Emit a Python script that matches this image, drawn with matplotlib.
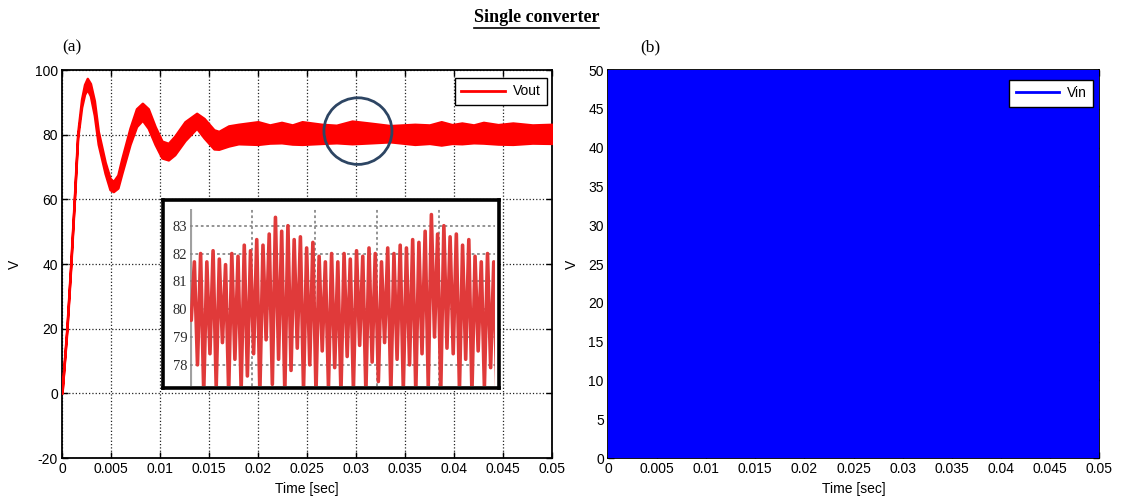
import numpy as np
import matplotlib
matplotlib.use("Agg")
import matplotlib.pyplot as plt
from matplotlib.patches import Ellipse
from matplotlib.lines import Line2D

# ---------------- data ----------------
time_ticks = [0, 0.005, 0.01, 0.015, 0.02, 0.025, 0.03, 0.035, 0.04, 0.045, 0.05]
time_tick_labels = ["0", "0.005", "0.01", "0.015", "0.02", "0.025", "0.03",
                    "0.035", "0.04", "0.045", "0.05"]
vout_yticks = [-20, 0, 20, 40, 60, 80, 100]
vin_yticks = [0, 5, 10, 15, 20, 25, 30, 35, 40, 45, 50]

# Vout envelope (upper / lower edge of the ripple band)
vout_t = [0, 0.0005, 0.0009, 0.00126, 0.0016, 0.0020, 0.0023, 0.00258, 0.0029,
          0.0033, 0.0037, 0.0044, 0.0049, 0.00524, 0.0057, 0.0061, 0.00694,
          0.0076, 0.0082, 0.0088, 0.0095, 0.0102, 0.01085, 0.0115, 0.01255,
          0.01374, 0.0145, 0.0155, 0.0160, 0.0170, 0.0180, 0.0200, 0.0212,
          0.0224, 0.0235, 0.0245, 0.0265, 0.0280, 0.0296, 0.0316, 0.0335,
          0.0360, 0.0375, 0.0387, 0.0398, 0.0408, 0.0420, 0.0430, 0.0445,
          0.0460, 0.0480, 0.0500]
vout_upper = [0.3, 20.5, 40.5, 60.5, 80.5, 91.0, 95.5, 97.4, 95.8,
              90.5, 81.0, 71.5, 66.5, 65.5, 67.5, 72.5, 82.0,
              88.0, 89.7, 88.0, 82.5, 78.0, 77.3, 79.5, 84.0,
              86.6, 85.0, 81.5, 81.0, 82.7, 83.2, 84.0, 83.0,
              83.8, 83.0, 84.0, 83.2, 82.9, 84.2, 83.5, 82.8,
              83.2, 83.0, 84.0, 83.1, 83.6, 83.0, 83.8, 83.1,
              83.6, 83.0, 83.2]
vout_lower = [0.0, 19.5, 39.5, 59.5, 79.0, 88.5, 92.5, 94.0, 92.0,
              86.0, 77.0, 68.0, 63.0, 62.4, 63.5, 68.0, 77.0,
              82.5, 84.5, 82.0, 77.0, 72.8, 72.2, 73.8, 78.2,
              82.0, 79.0, 75.6, 75.5, 76.5, 77.2, 77.0, 77.4,
              77.5, 77.1, 77.0, 77.3, 77.5, 77.2, 77.5, 77.8,
              77.0, 77.3, 76.8, 77.3, 77.2, 77.5, 77.4, 77.1,
              77.0, 77.4, 77.3]

# Zoomed inset: peaks and troughs of the ripple (one per switching cycle)
inset_peaks = [81.7, 82.0, 81.7, 82.1, 81.8, 81.6, 82.0, 81.9, 82.3, 82.1,
               82.5, 82.3, 82.7, 83.3, 82.8, 83.0, 82.5, 82.6, 82.2, 82.4,
               81.9, 81.7, 82.0, 81.7, 82.0, 81.8, 82.1, 81.9, 82.2, 82.0,
               81.7, 82.2, 82.0, 82.3, 82.2, 82.5, 82.4, 82.8, 83.4, 82.7,
               83.0, 82.6, 82.7, 82.3, 82.5, 81.9, 81.7, 82.0, 81.7]
inset_troughs = [79.6, 78.0, 77.0, 78.4, 77.2, 78.8, 77.0, 78.2, 77.1, 77.6,
                 78.4, 77.0, 78.9, 77.3, 78.2, 77.0, 77.8, 78.6, 77.1, 78.0,
                 77.0, 78.5, 77.2, 77.9, 77.0, 78.3, 77.1, 78.7, 77.0, 78.1,
                 77.4, 78.8, 77.0, 78.2, 77.1, 78.0, 77.0, 78.4, 77.2, 79.0,
                 77.0, 78.6, 78.4, 77.1, 78.2, 77.0, 78.5, 77.2, 77.9, 77.0]
inset_yticks = [78, 79, 80, 81, 82, 83]

# Vin: fast switching between low and high level (fills the panel)
vin_t = [0, 0.05]
vin_low = [0, 0]
vin_high = [50, 50]

# ---------------- figure ----------------
W, H = 1121, 503
SANS = "Liberation Sans"
SERIF = "Liberation Serif"
plt.rcParams["font.family"] = SANS
plt.rcParams["axes.unicode_minus"] = False

fig = plt.figure(figsize=(W / 100, H / 100), dpi=100)


def fr(x0, y0, x1, y1):
    return [x0 / W, 1 - y1 / H, (x1 - x0) / W, (y1 - y0) / H]


def style_axes(ax):
    for s in ax.spines.values():
        s.set_linewidth(1.3)
        s.set_color("black")
    ax.tick_params(direction="in", top=True, right=True, length=4,
                   labelsize=10, width=1, pad=3)
    ax.set_xticks(time_ticks)
    ax.set_xticklabels(time_tick_labels)
    ax.set_xlim(0, 0.05)
    ax.set_xlabel("Time [sec]", fontsize=10, labelpad=4)
    ax.set_ylabel("V", fontsize=10)


# ---- panel (a) ----
ax1 = fig.add_axes(fr(62, 70, 552, 458))
style_axes(ax1)
ax1.set_ylim(-20, 100)
ax1.set_yticks(vout_yticks)
ax1.yaxis.set_label_coords(-0.082, 0.5)
ax1.grid(True, color="#222222", linestyle=":", linewidth=0.9)
ax1.set_axisbelow(True)
ax1.fill_between(vout_t, vout_lower, vout_upper, facecolor="red",
                 edgecolor="red", linewidth=1.8, zorder=3)
leg1 = ax1.legend(handles=[Line2D([], [], color="red", lw=2)], labels=["Vout"],
                  loc="upper right", bbox_to_anchor=(0.9898, 0.979),
                  borderaxespad=0, fontsize=10, handlelength=3.1,
                  fancybox=False, edgecolor="black", framealpha=1,
                  borderpad=0.45, handletextpad=0.6)
leg1.get_frame().set_linewidth(1.0)
ax1.add_patch(Ellipse((0.0302, 81.1), 0.00694, 20.6, fill=False,
                      edgecolor="#2d4563", linewidth=2, zorder=5))

# ---- inset ----
frame = fig.add_axes(fr(163, 200, 499, 388))
frame.set_xticks([])
frame.set_yticks([])
frame.set_facecolor("white")
for s in frame.spines.values():
    s.set_linewidth(2.6)
frame.set_zorder(6)

axi = fig.add_axes(fr(190, 209, 495, 386))
axi.set_zorder(7)
axi.patch.set_alpha(0)
for name, s in axi.spines.items():
    s.set_visible(False)
n = len(inset_peaks)
xs, ys = [], []
for k in range(n):
    xs.append(k - 0.5)
    ys.append(inset_troughs[k])
    xs.append(k)
    ys.append(inset_peaks[k])
xs.append(n - 0.5)
ys.append(inset_troughs[n])
axi.set_xlim(-0.7, 48.2)
axi.set_ylim(77.24, 83.6)
axi.set_yticks(inset_yticks)
axi.set_yticklabels([str(v) for v in inset_yticks], fontfamily=SERIF,
                    fontsize=10.5, color="#2a2a2a")
axi.tick_params(axis="y", length=0, pad=2)
axi.set_xticks([9.3, 19.3, 29.3, 39.3])
axi.tick_params(axis="x", length=0, labelbottom=False)
axi.grid(True, color="#8a8a8a", linestyle=(0, (1.5, 1.5)), linewidth=1.3)
axi.axvline(-0.7, color="#a0a0a0", linewidth=3, zorder=1)
axi.plot(xs, ys, color="#e03a3a", linewidth=2.6, zorder=3, clip_on=True,
         solid_joinstyle="round", solid_capstyle="round")

# ---- panel (b) ----
ax2 = fig.add_axes(fr(608, 70, 1099, 458))
style_axes(ax2)
ax2.set_ylim(0, 50)
ax2.set_yticks(vin_yticks)
ax2.yaxis.set_label_coords(-0.06, 0.5)
ax2.fill_between(vin_t, vin_low, vin_high, color="blue", linewidth=0, zorder=3)
leg2 = ax2.legend(handles=[Line2D([], [], color="blue", lw=2)], labels=["Vin"],
                  loc="upper right", bbox_to_anchor=(0.988, 0.974),
                  borderaxespad=0, fontsize=10, handlelength=3.1,
                  fancybox=False, edgecolor="black", framealpha=1,
                  borderpad=0.45, handletextpad=0.6)
leg2.get_frame().set_linewidth(1.0)

# ---- texts ----
title = fig.text(536.5 / W, 1 - 18 / H, "Single converter", ha="center",
                 va="center", fontfamily=SERIF, fontweight="bold", fontsize=13)
fig.text(62 / W, 1 - 47 / H, "(a)", ha="left", va="center",
         fontfamily=SERIF, fontsize=12.5)
fig.text(640 / W, 1 - 47 / H, "(b)", ha="left", va="center",
         fontfamily=SERIF, fontsize=12.5)

fig.canvas.draw()
bb = title.get_window_extent(fig.canvas.get_renderer())
uy = bb.y0 - 1.5
fig.add_artist(Line2D([bb.x0 / fig.bbox.width, bb.x1 / fig.bbox.width],
                      [uy / fig.bbox.height, uy / fig.bbox.height],
                      color="black", linewidth=1.2, transform=fig.transFigure))

fig.savefig("out.png", dpi=100)
